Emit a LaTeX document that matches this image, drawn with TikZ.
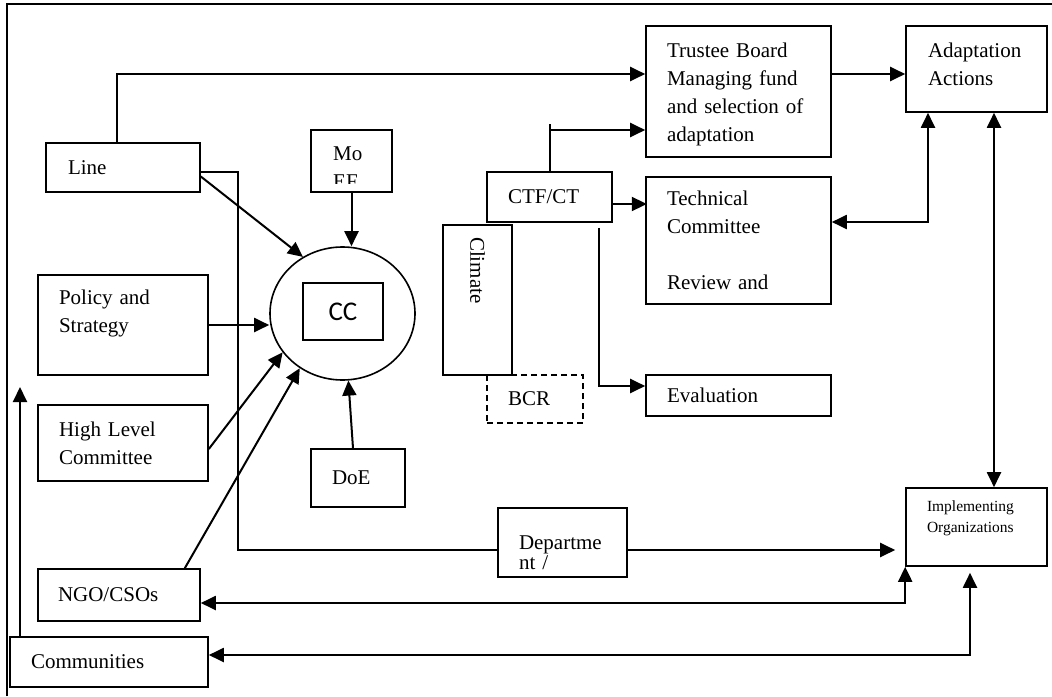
\documentclass[tikz,border=0pt]{standalone}
\usepackage{fontspec}
\setmainfont{Liberation Serif}
\newfontfamily\ccfont{Carlito}
\usepackage{tikz}
\usetikzlibrary{arrows.meta,shapes.geometric}

\tikzset{
  box/.style={draw, line width=1.6pt, align=left, inner sep=0pt,
    font=\fontsize{21}{28}\selectfont},
  conn/.style={line width=2pt},
  arrow/.style={conn, -{Triangle[length=15pt,width=14pt]}},
  both/.style={conn, {Triangle[length=15pt,width=14pt]}-{Triangle[length=15pt,width=14pt]}},
}

\begin{document}
\begin{tikzpicture}[x=1pt,y=-1pt]
        \useasboundingbox (0,0) rectangle (1052,696);
        \draw[line width=2pt] (7,696) -- (7,4) -- (1052,4);

        \path
        % left column
        (123,167.5) node[box,minimum width=154,minimum height=49,text width=110](line) {Line}
        (123,325) node[box,minimum width=170,minimum height=100,text width=128](policy) {Policy and\\Strategy\\\mbox{}}
        (123,443) node[box,minimum width=170,minimum height=76,text width=128](high) {High Level\\Committee}
        (119,595) node[box,minimum width=162,minimum height=52,text width=122](ngo) {NGO/CSOs}
        (109,662) node[box,minimum width=198,minimum height=50,text width=156](comm) {Communities}

        % hub
        (342.5,313.5) node[draw,ellipse,line width=1.6pt,minimum width=145,minimum height=133](hub) {}
        (343,311.5) node[box,minimum width=80,minimum height=57,align=center,font=\ccfont\fontsize{27}{30}\selectfont](cc) {CC}
        (351.5,161) node[box,minimum width=81,minimum height=62](moef) {}
        (358,478) node[box,minimum width=94,minimum height=58,text width=52](doe) {DoE}

        % middle
        (549.5,197) node[box,minimum width=125,minimum height=50,text width=83](ctf) {CTF/CT}
        (477.5,300) node[box,rotate=-90,minimum width=150,minimum height=69,text width=126](climate) {Climate}
        (535,399) node[box,dashed,dash pattern=on 6pt off 4pt,minimum width=96,minimum height=48,text width=54](bcr) {BCR}
        (562.5,542.5) node[box,minimum width=129,minimum height=69,text width=87,text height=34,font=\fontsize{21}{20}\selectfont](dept) {Departme\\nt /}

        % right
        (738.5,91.5) node[box,minimum width=185,minimum height=131,text width=143,text height=20](trustee) {Trustee Board\\Managing fund\\and selection of\\adaptation}
        (738.5,240.5) node[box,minimum width=185,minimum height=127,text width=143](tech) {Technical\\Committee\\\mbox{}\\Review and}
        (738.5,395.5) node[box,minimum width=185,minimum height=41,text width=143](eval) {Evaluation}
        (976.5,69) node[box,minimum width=141,minimum height=86,text width=97,text depth=38](adapt) {Adaptation\\Actions}
        (976.5,527) node[box,minimum width=141,minimum height=78,text width=99,font=\fontsize{15.5}{21}\selectfont](impl) {Implementing\\Organizations\\\mbox{}}
        ;

        % MoEF text is cut off by its box
        \begin{scope}
          \clip (311,130) rectangle (392,183);
          \node[anchor=north west,align=left,inner sep=0pt,font=\fontsize{21}{28}\selectfont] (moeftext) at (333,147) {Mo\\EF};
        \end{scope}

        \coordinate (railtop) at (117,74);
        \coordinate (ctfhook) at (549.5,130);
        \coordinate (techhook) at (928,222);
        \coordinate (rightrail) at (994,300);
        \coordinate (deptin) at (238,550);
        \coordinate (evalhook) at (598,386);
        \coordinate (ngohook) at (906,603);
        \coordinate (commhook) at (970,655);
        \coordinate (leftup) at (20,387);

        \draw[arrow] (line.north -| railtop) |- (trustee.west |- railtop);
        \draw[conn] (line.east) ++(0,4) -| (deptin) -- (dept.west |- deptin);
        \draw[arrow] (line.east) ++(0,9) -- (hub.125);
        \draw[arrow] (moef.south) -- (moef.south |- hub.north);
        \draw[arrow] (policy.east) -- (hub.west |- policy.east);
        \draw[arrow] (high.east) ++(0,6) -- (hub.213);
        \draw[arrow] (ngo.north east) ++(-16,0) -- (hub.232);
        \draw[arrow] (doe.north) ++(-5,0) -- (hub.275);

        \draw[arrow] (trustee.east |- railtop) -- (adapt.west |- railtop);
        \draw[conn] (ctf.north) -- ++(0,-47);
        \draw[arrow] (ctfhook) -- (trustee.west |- ctfhook);
        \draw[arrow] (ctf.east) ++(0,7) -- ++(34,0);
        \draw[arrow] (ctf.south east) ++(-14,5) |- (eval.west |- evalhook);
        \draw[both] (adapt.south -| techhook) |- (tech.east |- techhook);
        \draw[both] (adapt.south -| rightrail) -- (impl.north -| rightrail);

        \draw[arrow,shorten >=10pt] (dept.east |- deptin) -- (impl.west |- deptin);
        \draw[both] (impl.south west) |- (ngo.east |- ngohook);
        \draw[both,shorten <=6pt] (impl.south -| commhook) |- (comm.east |- commhook);
        \draw[arrow] (comm.north -| leftup) -- (leftup);
      \end{tikzpicture}
\end{document}
